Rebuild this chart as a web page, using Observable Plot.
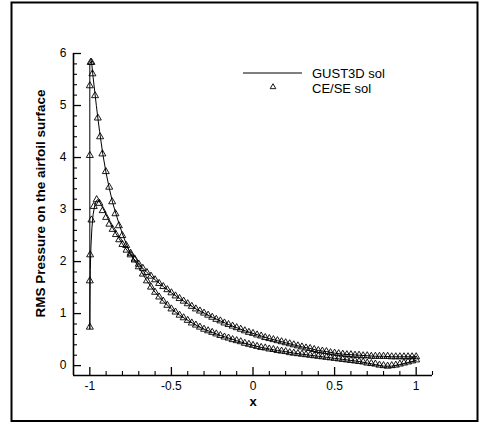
<!DOCTYPE html>
<html><head><meta charset="utf-8">
<script src="https://cdn.jsdelivr.net/npm/d3@7"></script>
<script src="https://cdn.jsdelivr.net/npm/@observablehq/plot@0.6"></script>
<style>body{margin:0;background:#fff}#chart{width:482px;height:424px}</style>
</head><body><div id="chart"></div>
<script>
// ---- axes / labels ----
const xDomain = [-1.1, 1.1];
const yDomain = [-0.19, 6];
const xMajor = [-1, -0.5, 0, 0.5, 1];
const xTickLabels = ["-1", "-0.5", "0", "0.5", "1"];
const xMinor = [-0.9, -0.8, -0.7, -0.6, -0.4, -0.3, -0.2, -0.1, 0.1, 0.2, 0.3, 0.4, 0.6, 0.7, 0.8, 0.9, 1.1];
const yMajor = [0, 1, 2, 3, 4, 5, 6];
const yTickLabels = ["0", "1", "2", "3", "4", "5", "6"];
const yMinor = [0.2, 0.4, 0.6, 0.8, 1.2, 1.4, 1.6, 1.8, 2.2, 2.4, 2.6, 2.8, 3.2, 3.4, 3.6, 3.8, 4.2, 4.4, 4.6, 4.8, 5.2, 5.4, 5.6, 5.8];
const xLabel = "x";
const yLabel = "RMS Pressure on the airfoil surface";
const seriesNames = ["GUST3D sol", "CE/SE sol"];

// ---- GUST3D sol (line), surface with leading-edge peak ~5.8 ----
const pLineX = [-1.0, -0.99, -0.98, -0.97, -0.96, -0.95, -0.94, -0.92, -0.90, -0.88, -0.86, -0.84, -0.82, -0.80, -0.78, -0.76, -0.74, -0.72, -0.70, -0.65, -0.60, -0.55, -0.50, -0.45, -0.40, -0.35, -0.30, -0.25, -0.20, -0.15, -0.10, -0.05, 0.0, 0.05, 0.10, 0.15, 0.20, 0.25, 0.30, 0.35, 0.40, 0.45, 0.50, 0.55, 0.60, 0.65, 0.70, 0.75, 0.80, 0.85, 0.90, 0.95, 1.0];
const pLineY = [5.80, 5.86, 5.55, 5.27, 5.00, 4.74, 4.50, 4.06, 3.70, 3.40, 3.13, 2.92, 2.72, 2.53, 2.37, 2.22, 2.10, 1.99, 1.89, 1.63, 1.41, 1.24, 1.09, 0.97, 0.87, 0.78, 0.70, 0.64, 0.58, 0.53, 0.48, 0.43, 0.39, 0.35, 0.32, 0.29, 0.27, 0.24, 0.22, 0.20, 0.18, 0.16, 0.14, 0.12, 0.10, 0.08, 0.05, 0.02, -0.01, -0.01, 0.02, 0.06, 0.10];
// ---- GUST3D sol (line), other surface with peak ~3.2 ----
const qLineX = [-1.0, -0.999, -0.997, -0.993, -0.987, -0.98, -0.97, -0.96, -0.95, -0.94, -0.92, -0.90, -0.88, -0.86, -0.84, -0.82, -0.80, -0.78, -0.76, -0.74, -0.72, -0.70, -0.65, -0.60, -0.55, -0.50, -0.45, -0.40, -0.35, -0.30, -0.25, -0.20, -0.15, -0.10, -0.05, 0.0, 0.05, 0.10, 0.15, 0.20, 0.25, 0.30, 0.35, 0.40, 0.45, 0.50, 0.55, 0.60, 0.65, 0.70, 0.75, 0.80, 0.85, 0.90, 0.95, 1.0];
const qLineY = [0.70, 1.30, 1.85, 2.30, 2.65, 2.90, 3.08, 3.17, 3.19, 3.15, 3.03, 2.90, 2.77, 2.65, 2.54, 2.44, 2.34, 2.25, 2.17, 2.09, 2.01, 1.95, 1.79, 1.65, 1.52, 1.40, 1.29, 1.19, 1.09, 1.01, 0.93, 0.86, 0.79, 0.73, 0.67, 0.62, 0.57, 0.52, 0.48, 0.44, 0.40, 0.36, 0.33, 0.29, 0.27, 0.24, 0.22, 0.21, 0.20, 0.19, 0.18, 0.18, 0.17, 0.17, 0.17, 0.17];

// ---- CE/SE sol (triangles) ----
const pLeX = [-1.0, -1.0, -0.995, -0.99, -0.984, -0.968, -0.951, -0.937, -0.923, -0.902, -0.881, -0.863, -0.843, -0.822, -0.801, -0.777];
const pLeY = [4.04, 5.38, 5.83, 5.83, 5.61, 5.19, 4.76, 4.40, 4.07, 3.73, 3.43, 3.15, 2.92, 2.69, 2.50, 2.31];
const qLeX = [-1.0, -1.0, -0.998, -0.99, -0.976, -0.958, -0.941, -0.921, -0.90, -0.88, -0.86, -0.84, -0.82, -0.80, -0.775];
const qLeY = [0.74, 1.63, 2.13, 2.80, 3.06, 3.19, 3.12, 2.98, 2.85, 2.72, 2.62, 2.52, 2.42, 2.33, 2.22];
const bodyX = [-0.75, -0.725, -0.70, -0.675, -0.65, -0.625, -0.60, -0.575, -0.55, -0.525, -0.50, -0.475, -0.45, -0.425, -0.40, -0.375, -0.35, -0.325, -0.30, -0.275, -0.25, -0.225, -0.20, -0.175, -0.15, -0.125, -0.10, -0.075, -0.05, -0.025, 0.0, 0.025, 0.05, 0.075, 0.10, 0.125, 0.15, 0.175, 0.20, 0.225, 0.25, 0.275, 0.30, 0.325, 0.35, 0.375, 0.40, 0.425, 0.45, 0.475, 0.50, 0.525, 0.55, 0.575, 0.60, 0.625, 0.65, 0.675, 0.70, 0.725, 0.75, 0.775, 0.80, 0.825, 0.85, 0.875, 0.90, 0.925, 0.95, 0.975, 1.0];
const pBodyY = [2.16, 2.03, 1.90, 1.76, 1.63, 1.51, 1.41, 1.32, 1.24, 1.16, 1.09, 1.03, 0.97, 0.92, 0.87, 0.82, 0.78, 0.74, 0.70, 0.67, 0.64, 0.61, 0.58, 0.55, 0.53, 0.50, 0.48, 0.46, 0.43, 0.41, 0.39, 0.37, 0.35, 0.34, 0.32, 0.31, 0.29, 0.28, 0.27, 0.25, 0.24, 0.23, 0.22, 0.21, 0.20, 0.19, 0.18, 0.17, 0.16, 0.15, 0.14, 0.13, 0.12, 0.11, 0.10, 0.09, 0.08, 0.07, 0.05, 0.04, 0.03, 0.01, 0.00, -0.01, 0.00, 0.01, 0.03, 0.05, 0.07, 0.09, 0.11];
const qBodyY = [2.13, 2.05, 1.95, 1.87, 1.79, 1.72, 1.65, 1.58, 1.52, 1.46, 1.40, 1.34, 1.29, 1.24, 1.19, 1.14, 1.09, 1.05, 1.01, 0.97, 0.93, 0.89, 0.86, 0.82, 0.79, 0.76, 0.73, 0.70, 0.67, 0.64, 0.62, 0.59, 0.57, 0.54, 0.52, 0.50, 0.48, 0.46, 0.44, 0.42, 0.40, 0.38, 0.36, 0.34, 0.33, 0.31, 0.29, 0.28, 0.27, 0.25, 0.24, 0.23, 0.22, 0.21, 0.21, 0.20, 0.20, 0.19, 0.19, 0.18, 0.18, 0.18, 0.18, 0.18, 0.17, 0.17, 0.17, 0.17, 0.17, 0.17, 0.17];

// ---- build tables ----
const zip = (xs, ys) => xs.map((x, i) => ({x, y: ys[i]}));
const gustLoop = [...zip(pLineX, pLineY).reverse(), ...zip(qLineX, qLineY)];
const cesePts = [...zip(pLeX, pLeY), ...zip(bodyX, pBodyY), ...zip(qLeX, qLeY), ...zip(bodyX, qBodyY)];

const W = 482, H = 424, mL = 73, mR = 50, mT = 53, mB = 49;
const FW = W - mL - mR, FH = H - mT - mB;
const font = "'Liberation Sans', Arial, Helvetica, sans-serif";

const chart = Plot.plot({
  width: W, height: H,
  marginLeft: mL, marginRight: mR, marginTop: mT, marginBottom: mB,
  style: {fontFamily: font, fontSize: "12px", color: "black", background: "white", overflow: "visible"},
  x: {domain: xDomain, ticks: xMajor, tickSize: 0, tickPadding: 6, tickFormat: (d, i) => xTickLabels[i], label: null},
  y: {domain: yDomain, ticks: yMajor, tickSize: 0, tickPadding: 7, tickFormat: (d, i) => yTickLabels[i], label: null},
  marks: [
    Plot.tickX(xMajor, {x: d => d, insetTop: FH - 8, stroke: "black", strokeWidth: 1.3}),
    Plot.tickX(xMinor, {x: d => d, insetTop: FH - 4, stroke: "black", strokeWidth: 1.1}),
    Plot.tickY(yMajor, {y: d => d, insetRight: FW - 8, stroke: "black", strokeWidth: 1.3}),
    Plot.tickY(yMinor, {y: d => d, insetRight: FW - 4, stroke: "black", strokeWidth: 1.1}),
    Plot.ruleX([xDomain[0]], {stroke: "black", strokeWidth: 1.6}),
    Plot.ruleY([yDomain[0]], {stroke: "black", strokeWidth: 1.6}),
    Plot.line(gustLoop, {x: "x", y: "y", stroke: "black", strokeWidth: 1}),
    Plot.dot(cesePts, {x: "x", y: "y", symbol: "triangle", r: 2.6, stroke: "black", strokeWidth: 0.9, fill: "none"}),
    Plot.text([yLabel], {text: d => d, frameAnchor: "left", dx: -33, dy: -11, rotate: -90, textAnchor: "middle", fontWeight: "bold", fontSize: 13.5}),
    Plot.text([xLabel], {text: d => d, frameAnchor: "bottom", dy: 30, textAnchor: "middle", fontWeight: "bold", fontSize: 13})
  ]
});
document.getElementById("chart").appendChild(chart);

// ---- decorations: outer border and legend ----
const svg = d3.select(chart);
svg.append("rect").attr("x", 11.5).attr("y", 2.5).attr("width", 466).attr("height", 418.5)
  .attr("fill", "none").attr("stroke", "black").attr("stroke-width", 2);
const lg = svg.append("g").attr("font-family", font).attr("font-size", 13).attr("text-anchor", "start");
lg.append("line").attr("x1", 243).attr("x2", 302).attr("y1", 73).attr("y2", 73).attr("stroke", "black").attr("stroke-width", 1);
lg.append("path").attr("d", d3.symbol(d3.symbolTriangle, 14)()).attr("transform", "translate(273,87)")
  .attr("fill", "none").attr("stroke", "black").attr("stroke-width", 0.9);
lg.append("text").attr("x", 312).attr("y", 73).attr("dy", "0.35em").attr("text-anchor", "start").text(seriesNames[0]);
lg.append("text").attr("x", 312).attr("y", 88).attr("dy", "0.35em").attr("text-anchor", "start").text(seriesNames[1]);
</script>
</body></html>
